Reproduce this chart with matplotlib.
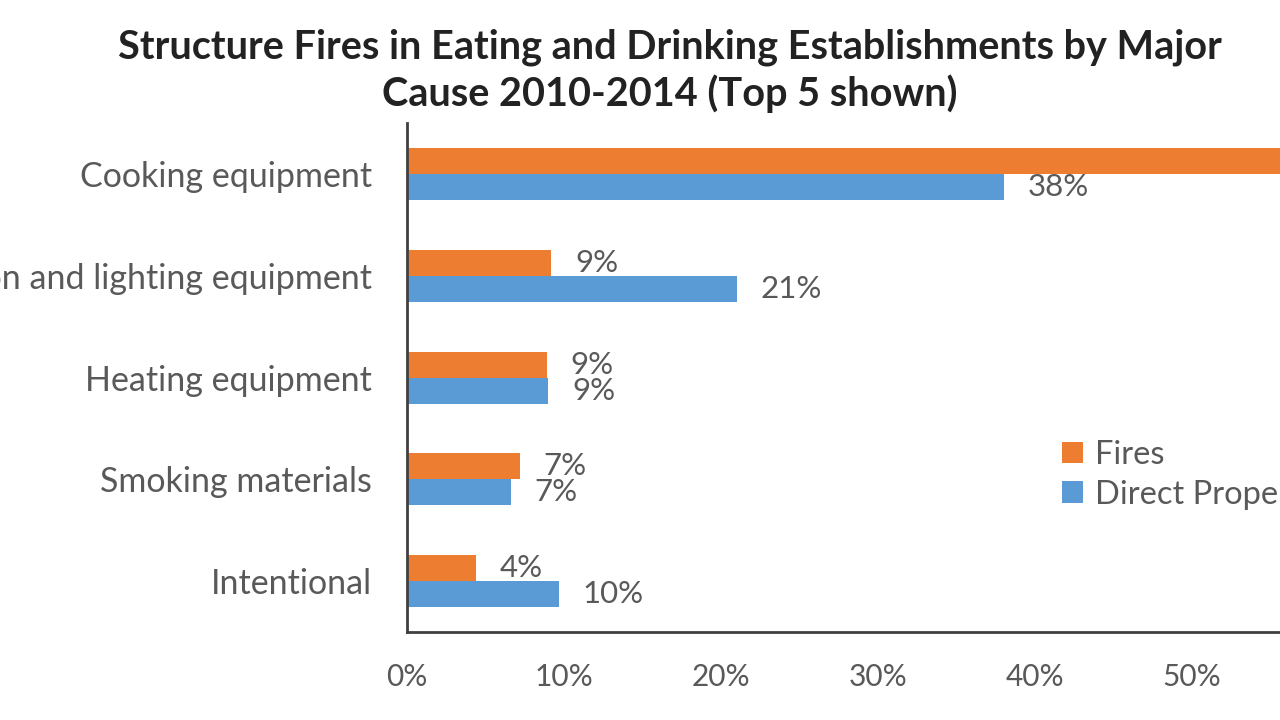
import matplotlib
matplotlib.use("Agg")
import matplotlib.pyplot as plt
import numpy as np

plt.rcParams.update({"font.family": ["Lato", "DejaVu Sans"], "axes.unicode_minus": False})

CAUSES = ["Cooking equipment", "Electrical distribution and lighting equipment",
          "Heating equipment", "Smoking materials", "Intentional"]
FIRES = [61.0, 9.2, 8.9, 7.2, 4.4]
DAMAGE = [38.0, 21.0, 9.0, 6.6, 9.7]
XTICKS = [0, 10, 20, 30, 40, 50, 60]

ORANGE, BLUE, GREY = "#ED7D31", "#5B9BD5", "#595959"

fig = plt.figure(figsize=(12.8, 7.2), dpi=100)
ax = fig.add_axes([0.318, 0.122, 0.736, 0.707])

y = np.arange(len(CAUSES))
h = 0.255
b1 = ax.barh(y - h / 2, FIRES, height=h, color=ORANGE, label="Fires")
b2 = ax.barh(y + h / 2, DAMAGE, height=h, color=BLUE, label="Direct Property Damage")
for bars in (b1, b2):
    ax.bar_label(bars, labels=[f"{v:.0f}%" for v in bars.datavalues], padding=17,
                 fontsize=22.5, color=GREY)

ax.set_xlim(0, 60)
ax.set_ylim(4.5, -0.5)
ax.set_yticks(y, CAUSES)
ax.set_xticks(XTICKS, [f"{t}%" for t in XTICKS])
ax.tick_params(axis="y", length=0, pad=25, labelsize=24.5, labelcolor=GREY)
ax.tick_params(axis="x", length=0, pad=22, labelsize=21.5, labelcolor=GREY)
for s in ("top", "right"):
    ax.spines[s].set_visible(False)
for s in ("left", "bottom"):
    ax.spines[s].set_color("#404040")
    ax.spines[s].set_linewidth(2)

ax.legend(loc="upper left", bbox_to_anchor=(1062 / 1280, 1 - 440 / 720),
          bbox_transform=fig.transFigure, frameon=False, fontsize=23.5,
          handlelength=0.65, handleheight=0.65, handletextpad=0.35, labelspacing=0.3,
          labelcolor=GREY, borderaxespad=0, borderpad=0)

fig.text(670 / 1280, 1 - 71 / 720,
         "Structure Fires in Eating and Drinking Establishments by Major\nCause 2010-2014 (Top 5 shown)",
         ha="center", va="center", fontsize=28.5, fontweight="bold", color="#222222",
         linespacing=1.25)

fig.savefig("out.png", dpi=100)
